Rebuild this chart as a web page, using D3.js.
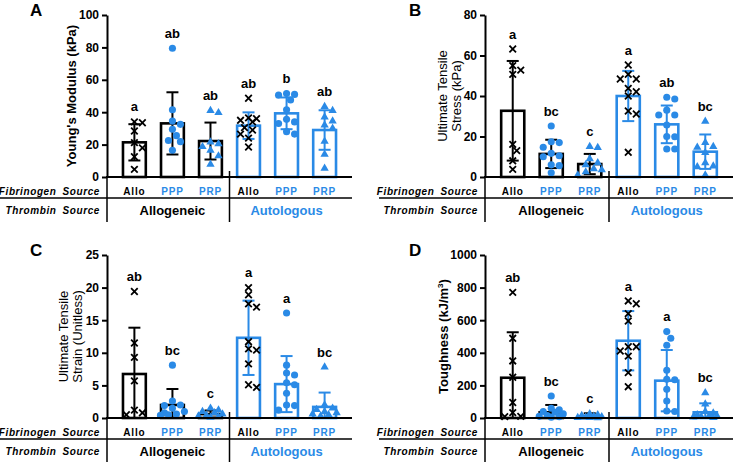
<!DOCTYPE html>
<html><head><meta charset="utf-8">
<script src="https://cdn.jsdelivr.net/npm/d3@7"></script>
<style>body{margin:0;background:#fff;} svg{display:block;font-family:"Liberation Sans",Arial,Helvetica,sans-serif;}</style>
</head><body><svg id="c" width="733" height="462"></svg>
<script>
// ---------- DATA ----------
const fibrinogen = ["Allo","PPP","PRP","Allo","PPP","PRP"];
const thrombin = ["Allogeneic","Allogeneic","Allogeneic","Autologous","Autologous","Autologous"];
const thrombinGroups = ["Allogeneic","Autologous"];

const ticksA = [0,20,40,60,80,100];
const meansA = [21.4, 33.1, 22.2, 31.7, 39.3, 29.0];
const sdA = [11.2, 19.2, 11.4, 8.2, 9.8, 12.2];
const ptsA = [
  [34, 33.5, 28.4, 21.2, 18, 12.5, 4.7],
  [79.5, 41.5, 34.5, 32.5, 29.5, 25.5, 22.5, 21.8, 16.5],
  [41, 39.7, 21.5, 20.5, 18.7, 16.5, 13, 7.8],
  [48.6, 36.5, 36, 35, 34, 30.5, 29, 26.5, 24, 18.5],
  [51.5, 51, 50.5, 47.5, 41.5, 35.6, 34, 33, 28, 26.5],
  [43.5, 41, 37, 34.5, 32, 30, 22, 14, 5.3]
];
const lettersA = ["a","ab","ab","ab","b","ab"];

const ticksB = [0,20,40,60,80];
const meansB = [32.7, 11.4, 6.4, 40.0, 26.0, 12.5];
const sdB = [24.6, 7.0, 5.0, 12.4, 9.3, 8.5];
const ptsB = [
  [63.2, 55, 52.8, 50.7, 16.1, 13, 8, 3.8],
  [25.2, 17.4, 17, 14.7, 11.7, 10.5, 10, 6, 5.6, 2.1],
  [15, 14.5, 9, 7, 6, 4, 3.5, 2.5, 1],
  [55.3, 50.7, 48.4, 48.4, 43.8, 42.1, 40, 32.6, 31.1, 12.2],
  [39.4, 38.5, 33, 30.6, 30.6, 25.7, 20, 19.9, 13.8, 13.8],
  [27.5, 17, 15, 14.7, 12, 7, 5.4, 5, 1]
];
const lettersB = ["a","bc","c","a","ab","bc"];

const ticksC = [0,5,10,15,20,25];
const meansC = [6.75, 2.0, 0.6, 12.3, 5.2, 1.7];
const sdC = [7.1, 2.45, 0.55, 5.7, 4.3, 2.2];
const ptsC = [
  [19.4, 11.5, 9.3, 5.7, 1.2, 0.8, 0.5],
  [8.1, 2.6, 2.0, 1.9, 1.5, 1.0, 0.8, 0.6, 0.5, 0.4],
  [1.5, 1.2, 1.0, 0.8, 0.6, 0.4, 0.3, 0.2, 0.1],
  [20.0, 18.9, 17.5, 17.0, 11.7, 10.6, 10.4, 8.3, 5.1, 4.7],
  [16.1, 8.1, 6.9, 6.6, 5.4, 5.1, 3.8, 2.0, 1.9, 1.2],
  [7.8, 2.0, 1.5, 1.3, 1.0, 0.8, 0.6, 0.5, 0.3]
];
const lettersC = ["ab","bc","c","a","a","bc"];

const ticksD = [0,200,400,600,800,1000];
const meansD = [247, 35, 10, 474, 229, 35];
const sdD = [279, 45, 19, 182, 188, 55];
const ptsD = [
  [771, 489, 350, 250, 95, 33, 10, 8],
  [135, 60, 50, 40, 35, 25, 15, 10, 8, 5],
  [25, 20, 15, 10, 8, 5, 3, 2, 1],
  [718, 701, 640, 595, 437, 437, 411, 380, 278, 192],
  [530, 489, 446, 293, 237, 235, 176, 104, 43, 40],
  [155, 85, 40, 30, 20, 15, 10, 8, 5, 3]
];
const lettersD = ["ab","bc","c","a","a","bc"];

// ---------- STYLE / LAYOUT ----------
const BLUE = "#2a8ae6";
const colorOf = t => t === "Autologous" ? BLUE : "#000";
const fibColor = f => f === "Allo" ? "#000" : BLUE;

const panels = [
  {tag:"A", means:meansA, sds:sdA, pts:ptsA, letters:lettersA, ticks:ticksA,
   x0:107, x1:352, top:15, bot:177, tagX:30, lineStart:0,
   ylab:{x:71, lines:["Young's Modulus (kPa)"], bold:true}},
  {tag:"B", means:meansB, sds:sdB, pts:ptsB, letters:lettersB, ticks:ticksB,
   x0:485, x1:733, top:15, bot:177, tagX:409, lineStart:379,
   ylab:{x:449.5, lines:["Ultimate Tensile","Stress (kPa)"], bold:false}},
  {tag:"C", means:meansC, sds:sdC, pts:ptsC, letters:lettersC, ticks:ticksC,
   x0:107, x1:352, top:255, bot:418, tagX:30, lineStart:0,
   ylab:{x:70, lines:["Ultimate Tensile","Strain (Unitless)"], bold:false}},
  {tag:"D", means:meansD, sds:sdD, pts:ptsD, letters:lettersD, ticks:ticksD,
   x0:485, x1:733, top:255, bot:418, tagX:409, lineStart:379,
   ylab:{x:443, lines:["Toughness (kJ/m"], sup:"3", tail:")", bold:true}}
];

const svg = d3.select("#c");

function swarm(values, y, cx) {
  const placed = [];
  const sorted = values.slice().sort((a,b)=>b-a);
  const step = 4, minD = 7, maxK = 6;
  for (const v of sorted) {
    const yy = y(v);
    let best = null, bestScore = -1;
    for (let k = 0; k <= maxK; k++) {
      const off = k === 0 ? 0 : (k % 2 ? 1 : -1) * Math.ceil(k/2) * step;
      const x = cx + off;
      const dmin = placed.length ? d3.min(placed, q => Math.hypot(q.x - x, q.y - yy)) : Infinity;
      if (dmin >= minD) { best = x; break; }
      if (dmin > bestScore) { bestScore = dmin; best = x; }
    }
    placed.push({v, x: best, y: yy});
  }
  return placed;
}

panels.forEach(p => {
  const g = svg.append("g");
  const y = d3.scaleLinear().domain([0, p.ticks[p.ticks.length-1]]).range([p.bot, p.top]);
  const x = d3.scaleBand().domain(d3.range(6)).range([p.x0, p.x1]).paddingInner(0.4).paddingOuter(0.42);
  const bw = x.bandwidth();
  const cx = i => x(i) + bw/2;

  // bars
  g.selectAll("rect.bar").data(p.means).join("rect")
    .attr("x", (d,i) => x(i)).attr("width", bw)
    .attr("y", d => y(d)).attr("height", d => y(0) - y(d))
    .attr("fill", "#fff").attr("stroke", (d,i) => colorOf(thrombin[i])).attr("stroke-width", 2.6);

  // error bars
  p.means.forEach((m,i) => {
    const c = colorOf(thrombin[i]);
    const hi = y(m + p.sds[i]), lo = y(Math.max(0, m - p.sds[i]));
    const eg = g.append("g").attr("stroke", c).attr("stroke-width", 2);
    eg.append("line").attr("x1", cx(i)).attr("x2", cx(i)).attr("y1", hi).attr("y2", lo);
    eg.append("line").attr("x1", cx(i)-6).attr("x2", cx(i)+6).attr("y1", hi).attr("y2", hi);
    if (m - p.sds[i] > 0)
      eg.append("line").attr("x1", cx(i)-6).attr("x2", cx(i)+6).attr("y1", lo).attr("y2", lo);
  });

  // points
  p.pts.forEach((vals,i) => {
    const f = fibrinogen[i];
    const pos = swarm(vals, y, cx(i));
    const sel = g.selectAll(null).data(pos).join("path")
      .attr("transform", d => `translate(${d.x},${d.y})`);
    if (f === "Allo") {
      sel.attr("d", d3.symbol().type(d3.symbolTimes).size(30)())
        .attr("fill","none").attr("stroke","#000").attr("stroke-width",1.8);
    } else if (f === "PPP") {
      sel.attr("d", d3.symbol().type(d3.symbolCircle).size(40)()).attr("fill", BLUE);
    } else {
      sel.attr("d", d3.symbol().type(d3.symbolTriangle).size(30)()).attr("fill", BLUE);
    }
  });

  // significance letters
  p.letters.forEach((L,i) => {
    const top = Math.max(p.means[i] + p.sds[i], d3.max(p.pts[i]));
    g.append("text").attr("x", cx(i)).attr("y", y(top) - 15).attr("dy","0.35em")
      .attr("text-anchor","middle")
      .attr("font-size", 13).attr("font-weight","bold").text(L);
  });

  // y axis
  const ax = g.append("g").attr("transform", `translate(${p.x0},0)`)
    .call(d3.axisLeft(y).tickValues(p.ticks).tickFormat(d3.format("d")).tickSize(5).tickSizeOuter(0).tickPadding(3));
  ax.select(".domain").attr("stroke-width", 2);
  ax.selectAll(".tick line").attr("stroke-width", 2);
  ax.selectAll(".tick text").attr("font-size", 12).attr("font-weight","bold")
    .attr("font-family", '"Liberation Sans",Arial,sans-serif').attr("fill","#000");

  // x axis line
  g.append("line").attr("x1", p.x0-1).attr("x2", p.x1).attr("y1", p.bot).attr("y2", p.bot)
    .attr("stroke","#000").attr("stroke-width",2);

  // table lines
  const divX = (cx(2) + cx(3)) / 2;
  g.append("line").attr("x1", p.lineStart).attr("x2", p.x1).attr("y1", p.bot+21).attr("y2", p.bot+21)
    .attr("stroke","#000").attr("stroke-width",1.5);
  g.append("line").attr("x1", p.x0).attr("x2", p.x0).attr("y1", p.bot).attr("y2", p.bot+45)
    .attr("stroke","#000").attr("stroke-width",1.5);
  g.append("line").attr("x1", divX).attr("x2", divX).attr("y1", p.bot-6).attr("y2", p.bot+45)
    .attr("stroke","#000").attr("stroke-width",1.5);

  // fibrinogen labels
  fibrinogen.forEach((f,i) => {
    g.append("text").attr("x", cx(i)).attr("y", p.bot+14).attr("dy","0.35em")
      .attr("text-anchor","middle").attr("font-size", 10).attr("font-weight","bold")
      .attr("letter-spacing", 0.8).attr("fill", fibColor(f)).text(f);
  });
  // thrombin labels
  thrombinGroups.forEach((t,k) => {
    const c = (cx(3*k) + cx(3*k+2)) / 2;
    g.append("text").attr("x", c).attr("y", p.bot+33).attr("dy","0.35em")
      .attr("text-anchor","middle").attr("font-size", 13).attr("font-weight","bold")
      .attr("fill", colorOf(t)).text(t);
  });

  // row headers
  [["Fibrinogen", p.bot+14], ["Thrombin", p.bot+33]].forEach(([w, yy]) => {
    const s = g.append("text").attr("x", p.x0-7).attr("y", yy).attr("dy","0.35em")
      .attr("text-anchor","end").attr("font-size", 10).attr("font-weight","bold").attr("font-style","italic")
      .attr("letter-spacing", 0.6).text("Source");
    const wS = s.node().getComputedTextLength();
    g.append("text").attr("x", p.x0-7-wS-6).attr("y", yy).attr("dy","0.35em")
      .attr("text-anchor","end").attr("font-size", 10).attr("font-weight","bold").attr("font-style","italic")
      .attr("letter-spacing", 0.6).text(w);
  });

  // y label
  const yc = (p.top + p.bot) / 2;
  const lab = g.append("text").attr("transform", `translate(${p.ylab.x},${yc}) rotate(-90)`)
    .attr("text-anchor","middle").attr("font-size", 13)
    .attr("font-weight", p.ylab.bold ? "bold" : "normal");
  const n = p.ylab.lines.length;
  p.ylab.lines.forEach((l, k) => {
    lab.append("tspan").attr("x", 0).attr("y", (k - (n-1)/2) * 14 + 4.5).text(l);
  });
  if (p.ylab.sup) {
    lab.append("tspan").attr("font-size", 8).attr("dy", -5).text(p.ylab.sup);
    lab.append("tspan").attr("dy", 5).text(p.ylab.tail);
  }

  // panel tag
  g.append("text").attr("x", p.tagX).attr("y", p.top + 1).attr("font-size", 17).attr("font-weight","bold")
    .text(p.tag);
});
</script>
</body></html>
